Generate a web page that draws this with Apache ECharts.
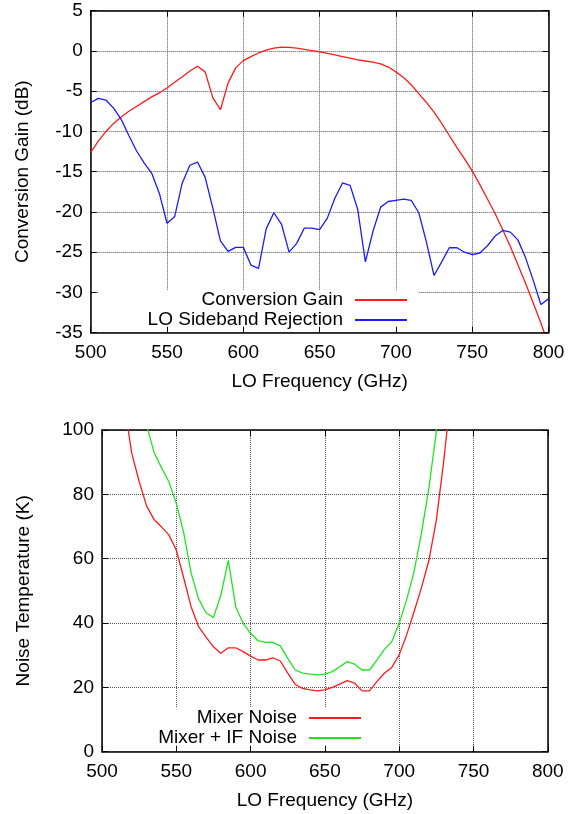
<!DOCTYPE html>
<html>
<head>
<meta charset="utf-8">
<script src="https://cdn.jsdelivr.net/npm/echarts@6/dist/echarts.min.js"></script>
<style>
  html, body { margin: 0; padding: 0; background: #fff; }
  #chart { width: 576px; height: 814px; }
</style>
</head>
<body>
<div id="chart"></div>
<script>
// top panel: LO frequency (GHz), conversion gain and sideband rejection (dB)
const freqTop = [500, 505, 510, 515, 520, 525, 530, 535, 540, 545, 550, 555, 560, 565, 570, 575, 580, 585, 590, 595,
  600, 605, 610, 615, 620, 625, 630, 635, 640, 645, 650, 655, 660, 665, 670, 675, 680, 685, 690, 695,
  700, 705, 710, 715, 720, 725, 730, 735, 740, 745, 750, 755, 760, 765, 770, 775, 780, 785, 790, 795, 800];
const convGain = [-12.6, -11.2, -10.0, -9.0, -8.2, -7.5, -6.9, -6.3, -5.7, -5.2, -4.6, -3.9, -3.2, -2.5, -1.9, -2.6, -5.8, -7.3, -4.0, -2.1,
  -1.2, -0.7, -0.25, 0.1, 0.35, 0.48, 0.45, 0.35, 0.2, 0.05, -0.1, -0.3, -0.5, -0.7, -0.9, -1.1, -1.25, -1.4, -1.6, -2.0,
  -2.6, -3.3, -4.2, -5.3, -6.4, -7.6, -9.0, -10.5, -12.0, -13.4, -14.9, -16.6, -18.4, -20.2, -22.2, -24.3, -26.6, -28.9, -31.3, -33.8, -36.5];
const loRejection = [-6.4, -5.9, -6.1, -7.1, -8.5, -10.5, -12.4, -13.9, -15.2, -17.7, -21.4, -20.6, -16.4, -14.2, -13.8, -15.7, -19.5, -23.6, -24.9, -24.4,
  -24.4, -26.6, -27.0, -22.1, -20.1, -21.5, -25.0, -23.9, -22.0, -22.0, -22.2, -20.8, -18.3, -16.4, -16.7, -19.7, -26.2, -22.4, -19.4, -18.7,
  -18.55, -18.4, -18.55, -20.1, -23.75, -27.9, -26.2, -24.45, -24.45, -25.0, -25.3, -25.1, -24.2, -23.0, -22.3, -22.5, -23.5, -25.7, -28.5, -31.5, -30.8];

// bottom panel: noise temperature (K)
const freqBottom = [515, 520, 525, 530, 535, 540, 545, 550, 555, 560, 565, 570, 575, 580, 585, 590, 595,
  600, 605, 610, 615, 620, 625, 630, 635, 640, 645, 650, 655, 660, 665, 670, 675, 680, 685, 690, 695,
  700, 705, 710, 715, 720, 725, 730, 735];
const mixerNoise = [108, 92.8, 84, 76.4, 72.2, 69.9, 67.4, 62.7, 54, 45, 38.9, 35.6, 32.6, 30.6, 32.3, 32.3, 31.1,
  29.7, 28.5, 28.5, 29.2, 28.2, 24.4, 20.9, 19.7, 19.2, 18.9, 19.2, 20.0, 21.0, 22.1, 21.3, 18.9, 18.9, 21.8, 24.4, 26.2,
  30.1, 36.3, 43.5, 51, 59.5, 72, 90.5, 112];
const mixerIfNoise = [null, null, 112, 101.5, 93.1, 88.3, 83.9, 77.2, 68, 55.5, 47.5, 43.2, 41.7, 48.7, 59.5, 45, 39.9,
  36.8, 34.5, 34.0, 34.0, 32.9, 29.0, 25.4, 24.4, 24.1, 23.9, 24.1, 24.9, 26.4, 28.0, 27.2, 25.4, 25.4, 28.5, 31.8, 34.2,
  39.9, 47.2, 56, 68, 82, 99.5, 125, null];

const FONT = 'Liberation Sans, Arial, Helvetica, sans-serif';
const pairs = (xs, ys) => xs.map((x, i) => [x, ys[i]]);
const dotted = { show: true, lineStyle: { color: '#555', type: 'dotted', width: 1 } };

// bottom x axis sits above the key box so its ticks stay visible; grid lines come from the top axis
function mainX(grid, name) {
  return {
    gridIndex: grid, type: 'value', min: 500, max: 800, interval: 50, position: 'bottom', z: 6,
    axisLine: { onZero: false, lineStyle: { color: '#000', width: 1.5 } },
    axisTick: { inside: true, length: 6, lineStyle: { color: '#000' } },
    axisLabel: { color: '#000', fontSize: 19, fontFamily: FONT, margin: 11 },
    splitLine: { show: false },
    name: name, nameLocation: 'middle', nameGap: 40,
    nameTextStyle: { color: '#000', fontSize: 19, fontFamily: FONT }
  };
}
function mirrorX(grid) {
  return {
    gridIndex: grid, type: 'value', min: 500, max: 800, interval: 50, position: 'top',
    axisLine: { onZero: false, lineStyle: { color: '#000', width: 1.5 } },
    axisTick: { inside: true, length: 6, lineStyle: { color: '#000' } },
    axisLabel: { show: false }, splitLine: dotted
  };
}
function mainY(grid, min, max, step, name, gap) {
  return {
    gridIndex: grid, type: 'value', min: min, max: max, interval: step, position: 'left',
    axisLine: { show: true, onZero: false, lineStyle: { color: '#000', width: 1.5 } },
    axisTick: { show: true, inside: true, length: 6, lineStyle: { color: '#000' } },
    axisLabel: { color: '#000', fontSize: 19, fontFamily: FONT, margin: 8 },
    splitLine: dotted,
    name: name, nameLocation: 'middle', nameGap: gap,
    nameTextStyle: { color: '#000', fontSize: 19, fontFamily: FONT }
  };
}
function mirrorY(grid, min, max, step) {
  return {
    gridIndex: grid, type: 'value', min: min, max: max, interval: step, position: 'right',
    axisLine: { show: true, onZero: false, lineStyle: { color: '#000', width: 1.5 } },
    axisTick: { show: true, inside: true, length: 6, lineStyle: { color: '#000' } },
    axisLabel: { show: false }, splitLine: { show: false }
  };
}
function legendBox(names, right, top, padLeft) {
  return {
    data: names, orient: 'vertical', align: 'right', right: right, top: top,
    backgroundColor: '#fff', padding: [0, 11, 1, padLeft], itemGap: 0,
    itemWidth: 52, itemHeight: 2, icon: 'rect',
    textStyle: { color: '#000', fontSize: 19, fontFamily: FONT, lineHeight: 20, padding: [0, 7, 0, 0] }
  };
}
function line(name, x, y, color, xi, yi) {
  return {
    name: name, type: 'line', xAxisIndex: xi, yAxisIndex: yi, data: pairs(x, y),
    symbol: 'none', showSymbol: false, clip: true,
    lineStyle: { color: color, width: 1.3 }, itemStyle: { color: color }
  };
}

const chart = echarts.init(document.getElementById('chart'), null, { renderer: 'canvas' });
chart.setOption({
  backgroundColor: '#fff',
  animation: false,
  textStyle: { fontFamily: FONT },
  grid: [
    { left: 90.7, top: 10.7, right: 27.5, height: 322 },
    { left: 102, top: 430, right: 28.2, height: 321.7 }
  ],
  xAxis: [mainX(0, 'LO Frequency (GHz)'), mirrorX(0), mainX(1, 'LO Frequency (GHz)'), mirrorX(1)],
  yAxis: [
    mainY(0, -35, 5, 5, 'Conversion Gain (dB)', 58), mirrorY(0, -35, 5, 5),
    mainY(1, 0, 100, 20, 'Noise Temperature (K)', 69), mirrorY(1, 0, 100, 20)
  ],
  legend: [
    legendBox(['Conversion Gain', 'LO Sideband Rejection'], 158, 290, 49),
    legendBox(['Mixer Noise', 'Mixer + IF Noise'], 204, 708, 40)
  ],
  series: [
    line('Conversion Gain', freqTop, convGain, '#ff1a1a', 0, 0),
    line('LO Sideband Rejection', freqTop, loRejection, '#1a1aff', 0, 0),
    line('Mixer Noise', freqBottom, mixerNoise, '#ff1a1a', 2, 2),
    line('Mixer + IF Noise', freqBottom, mixerIfNoise, '#1ee61e', 2, 2)
  ]
});
</script>
</body>
</html>
